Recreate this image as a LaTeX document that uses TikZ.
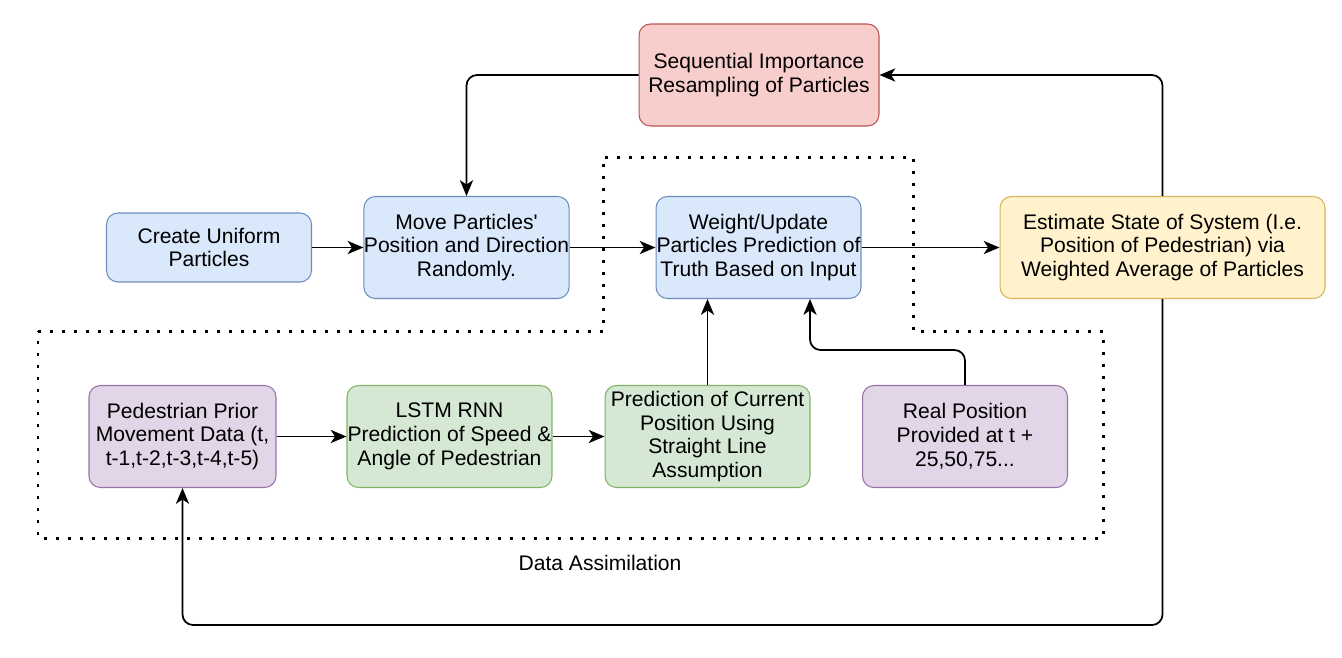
\documentclass[tikz,border=0pt]{standalone}
\usepackage{fontspec}
\setmainfont{Liberation Sans}
\usetikzlibrary{arrows.meta}
\definecolor{bluef}{HTML}{DAE8FC}\definecolor{blued}{HTML}{6C8EBF}
\definecolor{redf}{HTML}{F8CECC}\definecolor{redd}{HTML}{B85450}
\definecolor{yelf}{HTML}{FFF2CC}\definecolor{yeld}{HTML}{D6B656}
\definecolor{purf}{HTML}{E1D5E7}\definecolor{purd}{HTML}{9673A6}
\definecolor{grnf}{HTML}{D5E8D4}\definecolor{grnd}{HTML}{82B366}
\begin{document}
\begin{tikzpicture}[x=0.02cm,y=-0.02cm,
  every node/.style={font=\fontsize{12}{13.6}\selectfont},
  box/.style={draw, rounded corners=6.5pt, line width=0.6pt, align=center, inner sep=0pt, minimum height=2.04cm, minimum width=4.1cm},
  bluebox/.style={box, fill=bluef, draw=blued},
  redbox/.style={box, fill=redf, draw=redd},
  yelbox/.style={box, fill=yelf, draw=yeld},
  purbox/.style={box, fill=purf, draw=purd},
  grnbox/.style={box, fill=grnf, draw=grnd},
  conn/.style={line width=1pt, rounded corners=6pt, -{Stealth[length=9pt,width=7.5pt,inset=2.5pt]}},
  dotline/.style={line width=1.7pt, dash pattern=on 1.7pt off 5.1pt}]
\useasboundingbox (0,0) rectangle (1342,657);

% dotted data assimilation region
\draw[dotline] (38,331) -- (603,331) -- (603,157) -- (913,157) -- (913,331) -- (1103,331) -- (1103,538) -- (38,538) -- cycle;
\node (da) at (600,563) {Data Assimilation};

\node[redbox, minimum width=4.8cm] (seq) at (759,75) {Sequential Importance\\Resampling of Particles};
\node[bluebox, minimum height=1.38cm] (create) at (209,247.5) {Create Uniform\\Particles};
\node[bluebox] (move) at (466.5,247.5) {Move Particles\textquotesingle\\Position and Direction\\Randomly.};
\node[bluebox] (weight) at (758.5,247.5) {Weight/Update\\Particles Prediction of\\Truth Based on Input};
\node[yelbox, minimum width=6.5cm] (est) at (1162.5,247.5) {Estimate State of System (I.e.\\Position of Pedestrian) via\\Weighted Average of Particles};
\node[purbox, minimum width=3.74cm] (ped) at (182.5,436.5) {Pedestrian Prior\\Movement Data (t,\\t-1,t-2,t-3,t-4,t-5)};
\node[grnbox] (lstm) at (449.5,436.5) {LSTM RNN\\Prediction of Speed \&\\Angle of Pedestrian};
\node[grnbox] (pred) at (707.5,436.5) {Prediction of Current\\Position Using\\Straight Line\\Assumption};
\node[purbox] (real) at (965,436.5) {Real Position\\Provided at t +\\25,50,75...};

\coordinate (bot) at (182.5,625);
\coordinate (rw) at (810,350);

\draw[conn] (create) -- (move);
\draw[conn] (move) -- (weight);
\draw[conn] (weight) -- (est);
\draw[conn] (seq.west) -| (move.north);
\draw[conn] (est.north) |- (seq.east);
\draw[conn] (est.south) |- (bot) -- (ped.south);
\draw[conn] (ped) -- (lstm);
\draw[conn] (lstm) -- (pred);
\draw[conn] (pred.north) -- (pred.north |- weight.south);
\draw[conn] (real.north) |- (rw) -- (rw |- weight.south);
\end{tikzpicture}
\end{document}
